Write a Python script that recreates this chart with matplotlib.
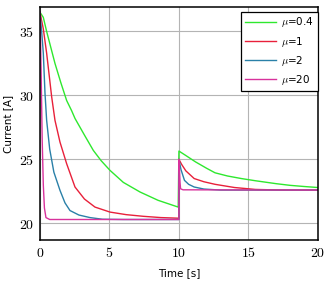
import numpy as np
import matplotlib
matplotlib.use("Agg")
import matplotlib.pyplot as plt
from matplotlib.ticker import FuncFormatter

plt.rcParams['mathtext.fontset'] = 'cm'

# values (time [s], current [A])
t_green = [0, 0.24, 0.48, 1.08, 1.5, 1.92, 2.28, 2.52, 3.2, 3.84, 4.4, 5.04, 6.0, 7.2, 8.5, 9.95,
           10.0, 10.5, 11.2, 12.0, 12.6, 13.5, 14.5, 15.5, 17.0, 18.0, 19.0, 20.0]
i_green = [36.5, 36.1, 35.0, 32.5, 31.0, 29.6, 28.8, 28.2, 26.9, 25.7, 24.9, 24.14, 23.2, 22.45, 21.8, 21.27,
           25.65, 25.3, 24.8, 24.3, 23.95, 23.7, 23.5, 23.33, 23.1, 22.97, 22.88, 22.8]

t_red = [0, 0.24, 0.48, 0.84, 1.08, 1.44, 1.92, 2.52, 3.2, 3.96, 5.04, 6.2, 7.43, 8.7, 10.0,
         10.0, 10.2, 10.5, 11.1, 11.8, 12.6, 14.0, 15.5, 17.5, 20.0]
i_red = [36.5, 35.2, 33.3, 29.9, 28.05, 26.35, 24.66, 22.84, 21.9, 21.27, 20.88, 20.68, 20.55, 20.45, 20.4,
         25.0, 24.6, 24.1, 23.5, 23.25, 23.05, 22.8, 22.65, 22.6, 22.6]

t_blue = [0, 0.12, 0.24, 0.36, 0.48, 0.7, 1.0, 1.44, 1.8, 2.16, 2.8, 3.6, 4.5, 6.0, 10.0,
          10.0, 10.15, 10.4, 10.7, 11.1, 11.8, 13.0, 20.0]
i_blue = [36.5, 35.0, 33.3, 30.2, 28.05, 25.8, 24.0, 22.58, 21.6, 21.0, 20.65, 20.45, 20.32, 20.3, 20.3,
          25.0, 24.2, 23.36, 23.05, 22.84, 22.68, 22.6, 22.6]

t_mag = [0, 0.08, 0.16, 0.24, 0.32, 0.43, 0.7, 10.0,
         10.0, 10.04, 10.08, 10.12, 10.3, 20.0]
i_mag = [36.5, 32.0, 26.5, 23.0, 21.2, 20.45, 20.3, 20.3,
         25.0, 24.2, 23.2, 22.7, 22.62, 22.6]

labels = [r'$\mu$=0.4', r'$\mu$=1', r'$\mu$=2', r'$\mu$=20']
colors = ['#2ee82e', '#e8203a', '#2a80a8', '#d8329c']

fig = plt.figure(figsize=(3.25, 2.85), dpi=100)
ax = fig.add_axes([0.123, 0.158, 0.855, 0.817])

for t, i, lab, c in zip([t_green, t_red, t_blue, t_mag],
                        [i_green, i_red, i_blue, i_mag], labels, colors):
    ax.plot(t, i, color=c, lw=1.0, label=lab)

ax.set_xlim(0, 20)
ax.set_ylim(18.7, 36.9)
ax.set_xticks([0, 5, 10, 15, 20])
ax.set_yticks([20, 25, 30, 35])
fmt = FuncFormatter(lambda v, p: f'${v:g}$')
ax.xaxis.set_major_formatter(fmt)
ax.yaxis.set_major_formatter(fmt)
ax.tick_params(length=0, labelsize=10, pad=4)
ax.grid(True, color='#b4b4b4', lw=0.8)
ax.set_axisbelow(True)
for s in ax.spines.values():
    s.set_linewidth(1.1)

ax.set_xlabel('Time [s]', fontsize=7.5, labelpad=6)
ax.set_ylabel('Current [A]', fontsize=7.5, labelpad=4)

leg = ax.legend(loc='upper right', bbox_to_anchor=(1.0, 0.98), fontsize=7.5,
                frameon=True, fancybox=False, edgecolor='black', framealpha=1,
                handlelength=3.0, borderaxespad=0.0, labelspacing=0.5,
                handletextpad=0.5, borderpad=0.35)
leg.get_frame().set_linewidth(0.9)

fig.savefig('out.png', dpi=100)
